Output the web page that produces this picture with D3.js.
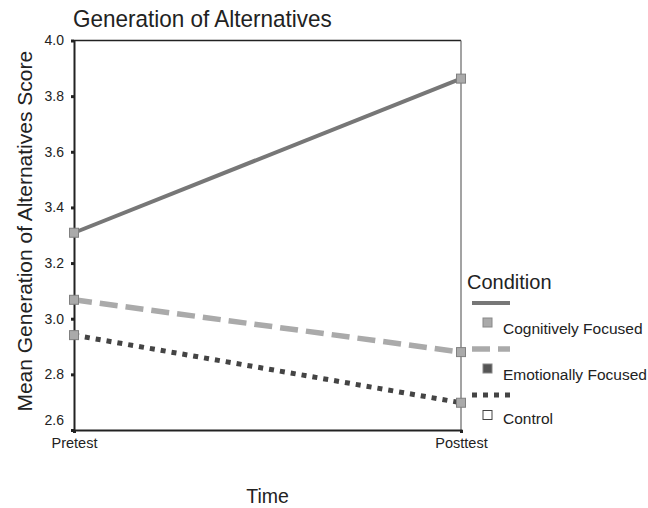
<!DOCTYPE html>
<html><head><meta charset="utf-8">
<script src="https://cdn.jsdelivr.net/npm/d3@7"></script>
<style>
html,body{margin:0;padding:0;background:#fff;}
svg{display:block;font-family:"Liberation Sans",Arial,Helvetica,sans-serif;}
</style></head>
<body>
<svg id="chart" width="648" height="508"></svg>
<script>
const times = ["Pretest", "Posttest"];
const conditions = ["Cognitively Focused", "Emotionally Focused", "Control"];
const cognitive = [3.309, 3.863];
const emotional = [3.068, 2.880];
const control = [2.941, 2.698];
const yTicks = [2.6, 2.8, 3.0, 3.2, 3.4, 3.6, 3.8, 4.0];

const series = [
  {name: conditions[0], values: cognitive, color: "#777", width: 4, dash: null, mark: "#aaa"},
  {name: conditions[1], values: emotional, color: "#aaa", width: 5.5, dash: "18,8", mark: "#555"},
  {name: conditions[2], values: control, color: "#444", width: 5, dash: "5,6", mark: "#fff"}
];

const svg = d3.select("#chart");
const L = 74, R = 461, T = 40.5, B = 430;
const x = d3.scalePoint().domain(times).range([L, R]).padding(0);
const y = d3.scaleLinear().domain([2.6, 4.0]).range([B, T]);

// frame: top and right
svg.append("line").attr("x1", L).attr("x2", R).attr("y1", T).attr("y2", T)
  .attr("stroke", "#222").attr("stroke-width", 1.5);
svg.append("line").attr("x1", R).attr("x2", R).attr("y1", T).attr("y2", B)
  .attr("stroke", "#666").attr("stroke-width", 1.2);

// y axis
const gy = svg.append("g").attr("transform", `translate(${L},0)`)
  .call(d3.axisLeft(y).tickValues(yTicks).tickFormat(d3.format(".1f")).tickSize(3).tickPadding(7));
gy.select(".domain").attr("stroke", "#222").attr("stroke-width", 2);
gy.selectAll(".tick line").attr("stroke", "#222").attr("stroke-width", 3);
gy.selectAll(".tick text").attr("font-size", "14px").attr("fill", "#222")
  .attr("font-family", "Liberation Sans, Arial, sans-serif")
  .attr("dy", d => d === 2.6 ? "-0.4em" : "0.32em");

// x axis
const gx = svg.append("g").attr("transform", `translate(0,${B})`)
  .call(d3.axisBottom(x).tickSize(3).tickPadding(5));
gx.select(".domain").attr("stroke", "#222").attr("stroke-width", 2);
gx.selectAll(".tick line").attr("stroke", "#222").attr("stroke-width", 3);
gx.selectAll(".tick text").attr("font-size", "14.5px").attr("fill", "#222")
  .attr("font-family", "Liberation Sans, Arial, sans-serif");

// lines
const line = d3.line().x((d, i) => x(times[i])).y(d => y(d));
series.forEach(s => {
  svg.append("path").datum(s.values).attr("d", line)
    .attr("fill", "none").attr("stroke", s.color).attr("stroke-width", s.width)
    .attr("stroke-dasharray", s.dash);
});
// markers
const ms = 9;
series.forEach(s => {
  svg.selectAll(null).data(s.values).enter().append("rect")
    .attr("x", (d, i) => x(times[i]) - ms / 2).attr("y", d => y(d) - ms / 2)
    .attr("width", ms).attr("height", ms)
    .attr("fill", "#aaa").attr("stroke", "#808080").attr("stroke-width", 1);
});

// titles
svg.append("text").attr("transform", "translate(73,27) scale(1,1.06)").attr("font-size", "22.5px").attr("fill", "#222")
  .text("Generation of Alternatives");
svg.append("text").attr("transform", `translate(32,${(T + B) / 2 - 4}) rotate(-90)`)
  .attr("text-anchor", "middle").attr("font-size", "21px").attr("fill", "#222")
  .text("Mean Generation of Alternatives Score");
svg.append("text").attr("x", (L + R) / 2).attr("y", 503).attr("text-anchor", "middle")
  .attr("font-size", "19.5px").attr("fill", "#222").text("Time");

// legend
const lg = svg.append("g");
lg.append("text").attr("x", 467).attr("y", 289).attr("font-size", "20px").attr("fill", "#222").text("Condition");
const lineYs = [303, 349, 395];
const sqYs = [322.5, 368.5, 415];
const labYs = [334, 380, 424];
series.forEach((s, i) => {
  lg.append("line").attr("x1", 472).attr("x2", 510).attr("y1", lineYs[i]).attr("y2", lineYs[i])
    .attr("stroke", s.color).attr("stroke-width", s.width).attr("stroke-dasharray", s.dash);
  lg.append("rect").attr("x", 483).attr("y", sqYs[i] - 4.5).attr("width", 9).attr("height", 9)
    .attr("fill", s.mark).attr("stroke", i === 2 ? "#444" : "#888").attr("stroke-width", 1);
  lg.append("text").attr("x", 503).attr("y", labYs[i]).attr("font-size", "15.5px").attr("fill", "#222")
    .text(s.name);
});
</script>
</body></html>
